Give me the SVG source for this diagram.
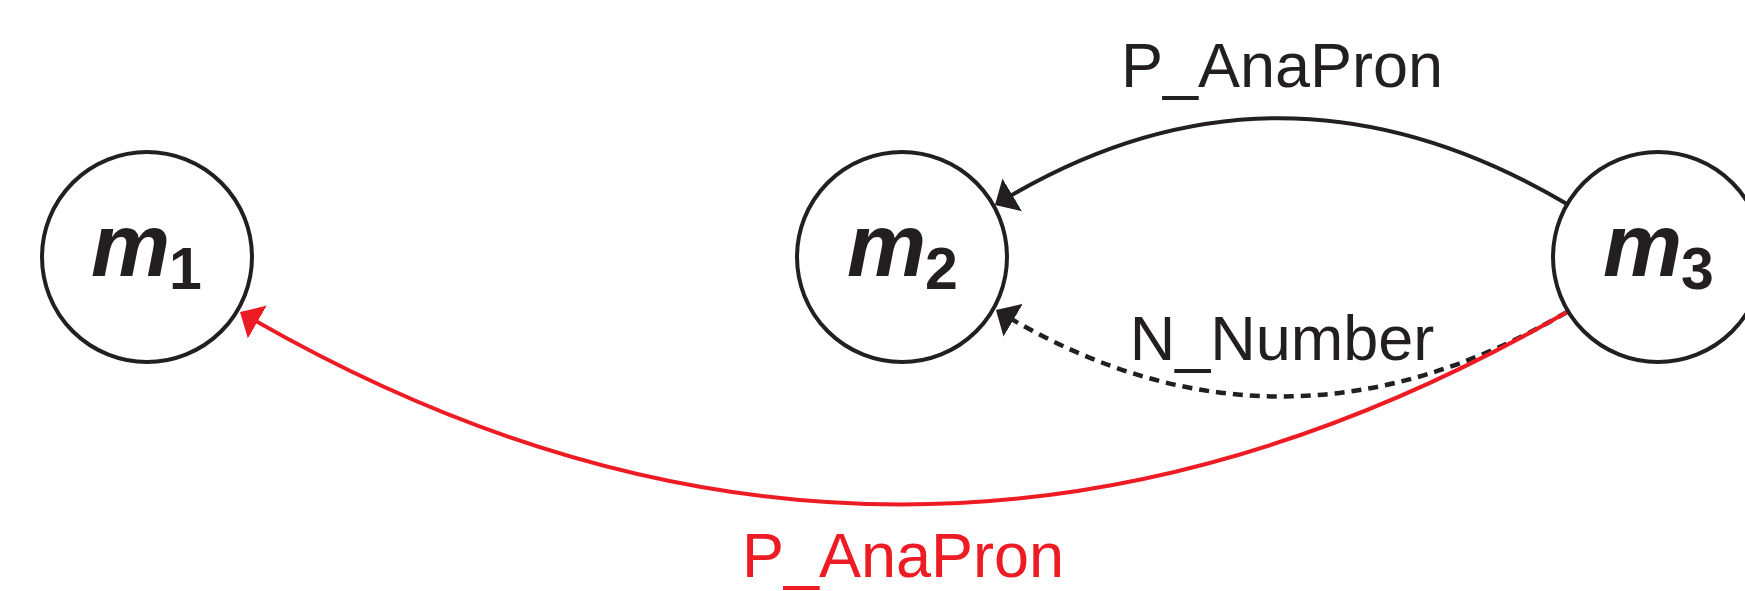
<svg xmlns="http://www.w3.org/2000/svg" width="1745" height="591" viewBox="0 0 1745 591">
  <style>
    .node { fill: #ffffff; stroke: #231f20; stroke-width: 4; }
    .var { font-family: "Liberation Sans", Arial, sans-serif; font-weight: bold; font-style: italic; font-size: 89px; fill: #231f20; }
    .sub { font-family: "Liberation Sans", Arial, sans-serif; font-weight: bold; font-size: 59px; fill: #231f20; }
    .edge { fill: none; stroke: #231f20; stroke-width: 4; }
    .dotted { stroke-dasharray: 10 7; stroke-width: 4.5; }
    .red { stroke: #ed1c24; }
    .lbl { font-family: "Liberation Sans", Arial, sans-serif; font-size: 63px; fill: #231f20; text-anchor: middle; }
    .lbl-red { fill: #ed1c24; }
  </style>
  <defs>
    <marker id="ahBlack" markerUnits="userSpaceOnUse" orient="auto" markerWidth="24" markerHeight="42" refX="8" refY="21" viewBox="0 0 24 42">
      <path d="M0,2 L20,21 L0,40 Z" fill="#231f20" stroke="none"/>
    </marker>
    <marker id="ahRed" markerUnits="userSpaceOnUse" orient="auto" markerWidth="24" markerHeight="42" refX="8" refY="21" viewBox="0 0 24 42">
      <path d="M0,2 L20,21 L0,40 Z" fill="#ed1c24" stroke="none"/>
    </marker>
  </defs>

  <g id="connectors">
    <path id="e-m3-m2-top" class="edge" d="M1567,204 Q1281,35 1005.3,198.9" marker-end="url(#ahBlack)"/>
    <path id="e-m3-m2-dotted" class="edge dotted" d="M1567,312 Q1282,479 1006.3,316.1" marker-end="url(#ahBlack)"/>
    <path id="e-m3-m1" class="edge red" d="M1567,312 Q903.5,694 250.4,318" marker-end="url(#ahRed)"/>
    <text class="lbl" x="1282" y="87">P_AnaPron</text>
    <text class="lbl" x="1282" y="360">N_Number</text>
    <text class="lbl lbl-red" x="903" y="577">P_AnaPron</text>
  </g>

  <g id="m1">
    <circle class="node" cx="147" cy="257" r="105"/>
    <text class="var" x="91" y="276">m</text>
    <text class="sub" x="169" y="289">1</text>
  </g>
  <g id="m2">
    <circle class="node" cx="902" cy="257" r="105"/>
    <text class="var" x="847" y="276">m</text>
    <text class="sub" x="925" y="289">2</text>
  </g>
  <g id="m3">
    <circle class="node" cx="1658" cy="257" r="105"/>
    <text class="var" x="1603" y="276">m</text>
    <text class="sub" x="1681" y="289">3</text>
  </g>
</svg>
